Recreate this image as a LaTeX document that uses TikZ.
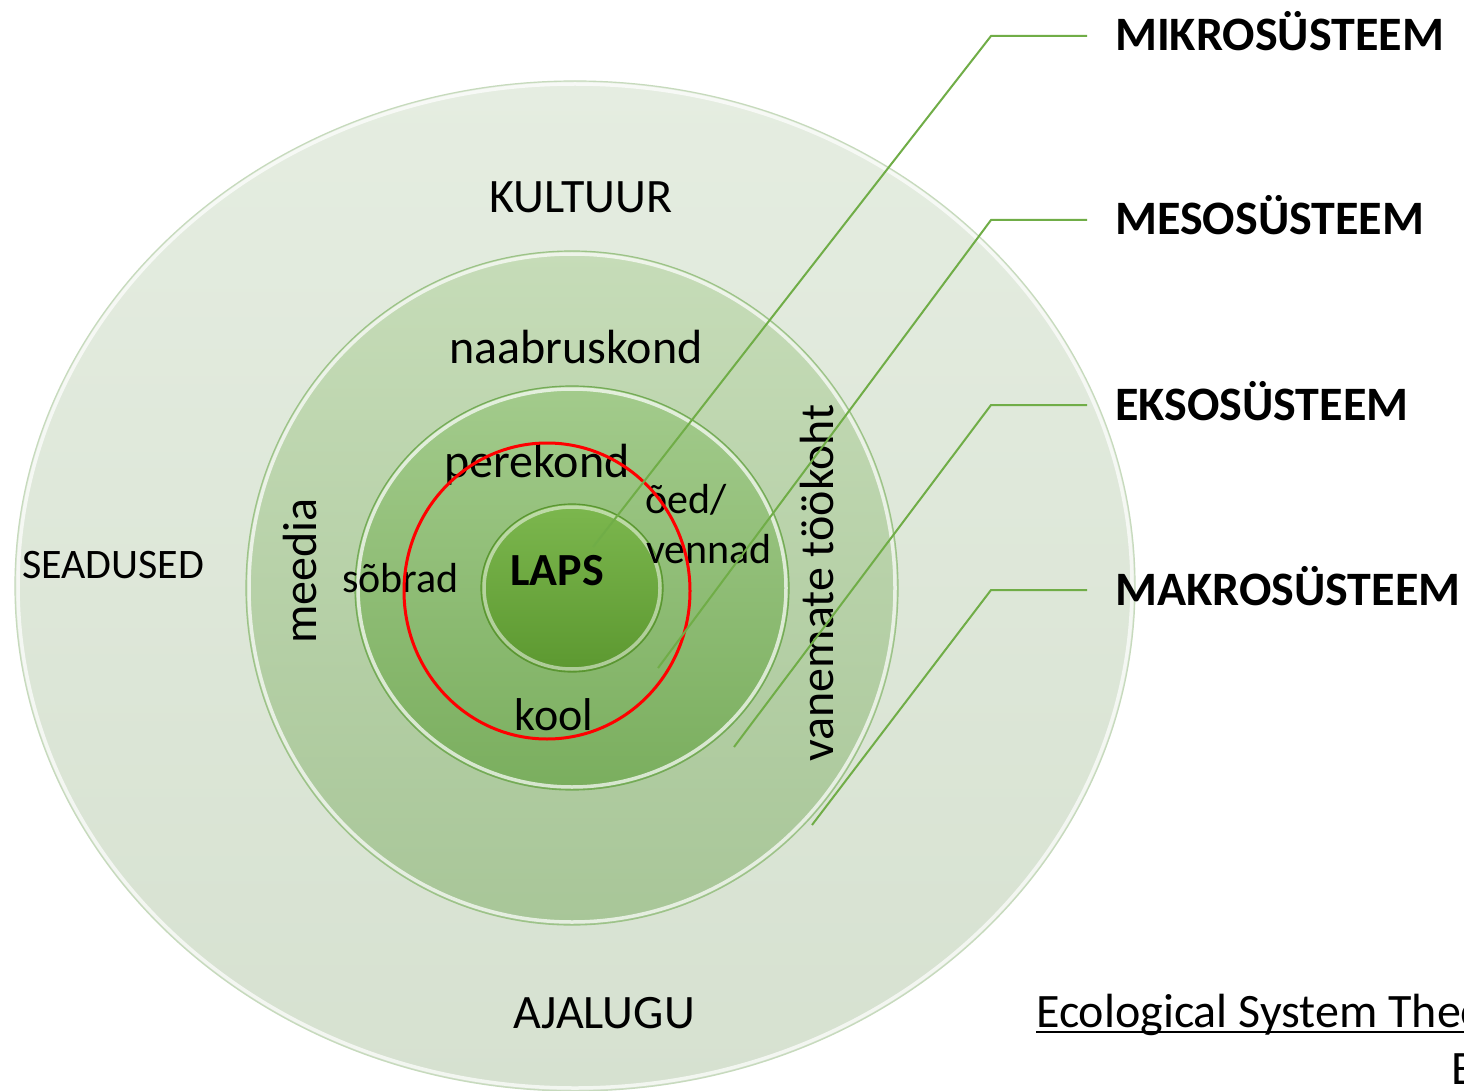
\documentclass[tikz,border=0pt]{standalone}
\usepackage{fontspec}
\setmainfont{Carlito}
\usetikzlibrary{shapes.geometric}
\definecolor{oat}{HTML}{E5EDE1}
\definecolor{oab}{HTML}{D6E1D0}
\definecolor{oae}{HTML}{C6DABC}
\definecolor{obt}{HTML}{C6DCB8}
\definecolor{obb}{HTML}{A8C698}
\definecolor{obe}{HTML}{9CC387}
\definecolor{oct}{HTML}{A3CB8C}
\definecolor{ocb}{HTML}{7AAE5E}
\definecolor{oce}{HTML}{74AB56}
\definecolor{odt}{HTML}{7CB74E}
\definecolor{odb}{HTML}{5C9830}
\definecolor{ode}{HTML}{5A9632}
\definecolor{leadgreen}{HTML}{70AD47}
\begin{document}
\begin{tikzpicture}[x=1pt,y=-1pt,
  lbl/.style={inner sep=0pt, font=\fontsize{46}{55}\selectfont},
  lblbig/.style={inner sep=0pt, font=\fontsize{48}{58}\selectfont},
  lblsm/.style={inner sep=0pt, font=\fontsize{42}{50}\selectfont},
  sys/.style={inner sep=0pt, anchor=base west, font=\bfseries\fontsize{48}{58}\selectfont},
  leader/.style={draw=leadgreen, line width=2pt},
  ring/.style={draw=white, line width=3.5pt, opacity=0.7},
  disc/.style={ellipse, inner sep=0pt, outer sep=0pt, line width=1.2pt},
]
\useasboundingbox (0,0) rectangle (1464,1091);
\clip (0,0) rectangle (1464,1091);
\fill[white] (0,0) rectangle (1464,1091);

% nested systems
\node[disc, draw=oae, top color=oat, bottom color=oab, minimum width=1120pt, minimum height=1010pt] (makro) at (575,586) {};
\draw[ring] (575,586) ellipse [x radius=557, y radius=502];
\node[disc, draw=obe, top color=obt, bottom color=obb, minimum width=652pt, minimum height=674pt] (ekso) at (572,588) {};
\draw[ring] (572,588) ellipse [x radius=323, y radius=334];
\node[disc, draw=oce, top color=oct, bottom color=ocb, minimum width=434pt, minimum height=404pt] (meso) at (572,588) {};
\draw[ring] (572,588) ellipse [x radius=214, y radius=199];
\node[disc, draw=ode, top color=odt, bottom color=odb, minimum width=182pt, minimum height=168pt] (mikro) at (572,588) {};
\draw[ring, opacity=0.5] (572,588) ellipse [x radius=88, y radius=81];

% texts in rings
\node[lblbig, anchor=base] (kultuur) at (581,213) {KULTUUR};
\node[lblsm, anchor=base west] (seadused) at (22,578) {SEADUSED};
\node[lblbig, anchor=base] (ajalugu) at (604,1028) {AJALUGU};
\node[lblbig, anchor=base] (naabr) at (576,363) {naabruskond};
\node[lblbig, rotate=90, anchor=base] (meedia) at (316,571) {meedia};
\node[lblbig, rotate=90, anchor=base] (vanemad) at (833,583) {vanemate töökoht};
\node[lblbig, anchor=base] (perekond) at (537,477) {perekond};
\node[lblsm, anchor=base west] (oed) at (645,513) {õed/};
\node[lblsm, anchor=base west] (vennad) at (646,563) {vennad};
\node[lblsm, anchor=base west] (sobrad) at (342,592) {sõbrad};
\node[lbl, anchor=base] (kool) at (554,730) {kool};
\node[lbl, anchor=base, font=\bfseries\fontsize{46}{55}\selectfont] (laps) at (557,585) {LAPS};

% red focus circle
\node[ellipse, draw=red, line width=3pt, inner sep=0pt, minimum width=286pt, minimum height=296pt] (focus) at (547,591) {};

% system labels and leaders
\node[sys] (lmikro) at (1115,51) {MIKROSÜSTEEM};
\node[sys] (lmeso) at (1115,235) {MESOSÜSTEEM};
\node[sys] (lekso) at (1115,420) {EKSOSÜSTEEM};
\node[sys] (lmakro) at (1115,605) {MAKROSÜSTEEM};

\coordinate (a1) at (1087,36);  \coordinate (b1) at (991,36);  \coordinate (c1) at (593,547);
\coordinate (a2) at (1087,220); \coordinate (b2) at (991,220); \coordinate (c2) at (658,668);
\coordinate (a3) at (1087,405); \coordinate (b3) at (991,405); \coordinate (c3) at (734,747);
\coordinate (a4) at (1087,590); \coordinate (b4) at (991,590); \coordinate (c4) at (812,825);
\draw[leader] (a1) -- (b1) -- (c1);
\draw[leader] (a2) -- (b2) -- (c2);
\draw[leader] (a3) -- (b3) -- (c3);
\draw[leader] (a4) -- (b4) -- (c4);

% source
\node[lblbig, anchor=base west] (eco) at (1036,1027) {Ecological System Theory};
\draw[line width=2.5pt] ([yshift=-5pt]eco.base west) -- ([yshift=-5pt]eco.base east);
\node[lblbig, anchor=base west] (bline) at (1451,1084) {B};
\end{tikzpicture}
\end{document}
